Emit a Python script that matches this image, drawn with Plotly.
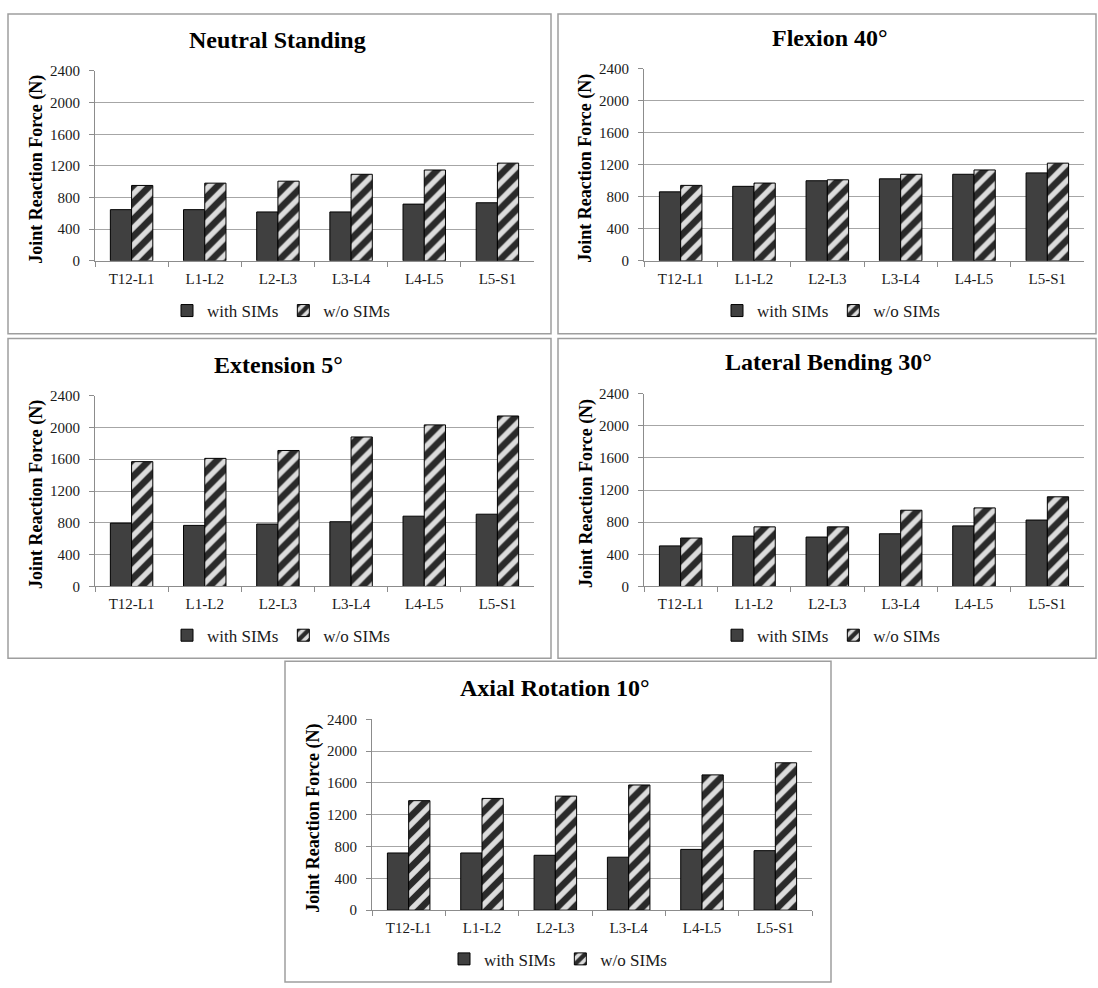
import plotly.graph_objects as go

# Spinal joint levels
categories = ["T12-L1", "L1-L2", "L2-L3", "L3-L4", "L4-L5", "L5-S1"]

# Joint reaction force (N) for each posture
neutral_with = [647, 647, 618, 618, 717, 734]
neutral_without = [953, 982, 1007, 1094, 1148, 1235]

flexion_with = [863, 932, 1002, 1026, 1083, 1100]
flexion_without = [944, 973, 1014, 1083, 1137, 1222]

extension_with = [797, 768, 785, 814, 884, 909]
extension_without = [1570, 1611, 1710, 1880, 2032, 2144]

lateral_with = [505, 627, 615, 656, 754, 827]
lateral_without = [603, 742, 742, 949, 978, 1116]

axial_with = [719, 719, 690, 666, 764, 748]
axial_without = [1377, 1405, 1434, 1574, 1701, 1853]

titles = ["Neutral Standing", "Flexion 40°", "Extension 5°",
          "Lateral Bending 30°", "Axial Rotation 10°"]
series_with = [neutral_with, flexion_with, extension_with, lateral_with, axial_with]
series_without = [neutral_without, flexion_without, extension_without,
                  lateral_without, axial_without]

y_ticks = [0, 400, 800, 1200, 1600, 2000, 2400]
y_title = "Joint Reaction Force (N)"

W, H = 1098, 988

# pixel layout of each panel: frame box, plot area, title / legend / y-title anchors
panels = [
    dict(box=(8, 6, 551, 331), plot=(95, 64, 534, 257), title=(277, 33), legend=(281, 308), ytitle=37),
    dict(box=(558, 6, 1096, 331), plot=(644, 62, 1084, 257), title=(830, 31), legend=(831, 308), ytitle=586),
    dict(box=(8, 336, 551, 661), plot=(95, 394, 534, 588), title=(278, 363), legend=(281, 638), ytitle=37),
    dict(box=(558, 336, 1096, 661), plot=(644, 392, 1084, 588), title=(828, 360), legend=(831, 638), ytitle=586),
    dict(box=(285, 664, 831, 990), plot=(372, 723, 812, 917), title=(555, 691), legend=(558, 967), ytitle=314),
]


def px_x(v):
    return v / W


def px_y(v):
    return 1 - v / H


SERIF = "Times New Roman, Liberation Serif, serif"
GRID = "#a6a6a6"
AXIS = "#8c8c8c"

fig = go.Figure()
layout = dict(
    width=W, height=H,
    margin=dict(l=0, r=0, t=0, b=0),
    paper_bgcolor="white", plot_bgcolor="white",
    bargap=0.42, bargroupgap=0.0, barmode="group",
    font=dict(family=SERIF, color="#1a1a1a"),
    shapes=[], annotations=[],
)

for i, p in enumerate(panels):
    n = "" if i == 0 else str(i + 1)
    xa, ya = "x" + n, "y" + n
    lg = "legend" + n

    fig.add_trace(go.Bar(
        x=categories, y=series_with[i], name="with SIMs",
        xaxis=xa, yaxis=ya, legend=lg,
        marker=dict(color="#404040", line=dict(color="#000000", width=1)),
    ))
    fig.add_trace(go.Bar(
        x=categories, y=series_without[i], name="w/o SIMs",
        xaxis=xa, yaxis=ya, legend=lg,
        marker=dict(color="#d9d9d9", line=dict(color="#000000", width=1),
                    pattern=dict(shape="/", fgcolor="#2a2a2a", bgcolor="#dcdcdc",
                                 size=12, solidity=0.55, fillmode="replace")),
    ))

    x0, y0, x1, y1 = p["plot"]
    layout["xaxis" + n] = dict(
        domain=[px_x(x0), px_x(x1)], anchor=ya,
        type="category", tickson="boundaries",
        ticks="outside", ticklen=5, tickcolor=AXIS,
        showline=True, linecolor=AXIS, linewidth=1,
        showgrid=False, zeroline=False, ticklabelstandoff=4,
        tickfont=dict(family=SERIF, size=15, color="#1a1a1a"),
    )
    layout["yaxis" + n] = dict(
        domain=[px_y(y1), px_y(y0)], anchor=xa,
        range=[0, 2400], tickvals=y_ticks,
        ticks="outside", ticklen=5, tickcolor=AXIS,
        showline=True, linecolor=AXIS, linewidth=1,
        showgrid=True, gridcolor=GRID, gridwidth=1, zeroline=False,
        ticklabelstandoff=6,
        tickfont=dict(family=SERIF, size=15, color="#1a1a1a"),
    )
    layout[lg] = dict(
        x=px_x(p["legend"][0]), y=px_y(p["legend"][1]),
        xanchor="center", yanchor="middle", orientation="h",
        font=dict(family=SERIF, size=17, color="#1a1a1a"),
        bgcolor="rgba(0,0,0,0)", itemwidth=30, tracegroupgap=0,
    )

    bx0, by0, bx1, by1 = p["box"]
    layout["shapes"].append(dict(
        type="rect", xref="paper", yref="paper",
        x0=px_x(bx0), x1=px_x(bx1), y0=px_y(by1), y1=px_y(by0),
        line=dict(color="#9e9e9e", width=1.5), fillcolor="rgba(0,0,0,0)", layer="below",
    ))
    layout["annotations"].append(dict(
        text="<b>" + titles[i] + "</b>", xref="paper", yref="paper",
        x=px_x(p["title"][0]), y=px_y(p["title"][1]),
        xanchor="center", yanchor="middle", showarrow=False,
        font=dict(family=SERIF, size=24, color="#000000"),
    ))
    layout["annotations"].append(dict(
        text="<b>" + y_title + "</b>", xref="paper", yref="paper",
        x=px_x(p["ytitle"]), y=px_y((y0 + y1) / 2 + 4),
        xanchor="center", yanchor="middle", showarrow=False, textangle=-90,
        font=dict(family=SERIF, size=18, color="#000000"),
    ))

fig.update_layout(**layout)
fig.write_html("out.html")
